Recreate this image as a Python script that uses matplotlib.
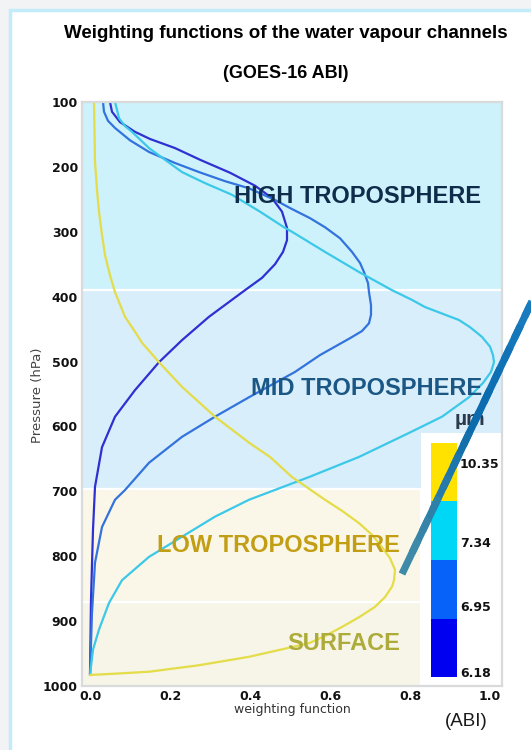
import numpy as np
import matplotlib
matplotlib.use("Agg")
import matplotlib.pyplot as plt
from matplotlib.patches import Rectangle
from matplotlib.colors import ListedColormap, BoundaryNorm, to_rgb
from matplotlib.collections import LineCollection
import matplotlib as mpl

# ---------------- data ----------------
p_618 = [100, 115, 131, 146, 157, 171, 189, 209, 229, 248, 269, 294, 313, 331, 350, 371,
         390, 431, 467, 501, 544, 585, 632, 693, 759, 867, 983]
w_618 = [0.05, 0.055, 0.075, 0.1125, 0.15, 0.2125, 0.275, 0.35, 0.4125, 0.455, 0.48,
         0.4925, 0.4925, 0.4825, 0.4625, 0.43, 0.3875, 0.2975, 0.23, 0.1725, 0.1125,
         0.0625, 0.03, 0.0125, 0.0075, 0.0025, 0.0]

p_695 = [100, 115, 129, 140, 159, 177, 194, 208, 222, 233, 251, 265, 279, 293, 310, 331,
         348, 362, 379, 393, 413, 428, 441, 453, 464, 490, 516, 555, 585, 616, 656, 698,
         713, 755, 810, 887, 983]
w_695 = [0.0325, 0.035, 0.045, 0.0625, 0.1, 0.1475, 0.2125, 0.2725, 0.3375, 0.3975,
         0.4625, 0.505, 0.55, 0.5875, 0.625, 0.655, 0.675, 0.685, 0.695, 0.6975, 0.7025,
         0.7025, 0.6975, 0.68, 0.65, 0.575, 0.5125, 0.3975, 0.3125, 0.23, 0.1475, 0.0875,
         0.0625, 0.03, 0.0125, 0.005, 0.0]

p_734 = [100, 112, 125, 137, 146, 171, 189, 208, 225, 243, 269, 294, 300, 331, 362, 390,
         405, 416, 436, 447, 462, 477, 490, 501, 516, 533, 555, 585, 610, 647, 678, 713,
         739, 770, 801, 837, 872, 913, 944, 983]
w_734 = [0.0625, 0.0675, 0.0725, 0.0875, 0.105, 0.1475, 0.1875, 0.23, 0.2875, 0.355,
         0.425, 0.4875, 0.505, 0.5875, 0.6725, 0.755, 0.805, 0.8375, 0.9225, 0.95, 0.98,
         1.0, 1.0075, 1.01, 1.0025, 0.9825, 0.9475, 0.88, 0.7975, 0.6725, 0.5475, 0.3975,
         0.3125, 0.23, 0.1475, 0.08, 0.0475, 0.0225, 0.0075, 0.0]

p_1035 = [100, 192, 236, 269, 305, 336, 367, 393, 431, 454, 471, 501, 539, 585, 625, 647,
          678, 696, 713, 730, 749, 767, 786, 803, 821, 837, 847, 863, 878, 894, 909, 923,
          934, 940, 955, 968, 978, 981, 983]
w_1035 = [0.01, 0.0125, 0.0175, 0.0225, 0.03, 0.0375, 0.05, 0.0625, 0.0875, 0.1125, 0.13,
          0.1725, 0.23, 0.3125, 0.3975, 0.45, 0.505, 0.5475, 0.5875, 0.63, 0.6725, 0.705,
          0.73, 0.75, 0.7625, 0.76, 0.755, 0.7375, 0.7125, 0.6725, 0.63, 0.5875, 0.5475,
          0.505, 0.3975, 0.2725, 0.1475, 0.0625, 0.0]

channels = ["6.18", "6.95", "7.34", "10.35"]
channel_colors = ["#2e30d2", "#3373de", "#3cc8e8", "#e4dc48"]

y_ticks = [100, 200, 300, 400, 500, 600, 700, 800, 900, 1000]
x_ticks = [0.0, 0.2, 0.4, 0.6, 0.8, 1.0]

layer_names = ["HIGH TROPOSPHERE", "MID TROPOSPHERE", "LOW TROPOSPHERE", "SURFACE"]
layer_bounds = [100, 390, 697, 870, 1000]

# ---------------- figure ----------------
W, H = 531, 750
fig = plt.figure(figsize=(W / 100, H / 100), dpi=100, facecolor="#f2f3f4")

# white panel with light-blue border (behind everything)
bg = fig.add_axes([0, 0, 1, 1], zorder=-10)
bg.set_xlim(0, W)
bg.set_ylim(H, 0)
bg.axis("off")
bg.add_patch(Rectangle((9.5, 9.5), W + 20, H + 20, facecolor="white",
                       edgecolor="#c3ebfa", linewidth=2.5))

ax = fig.add_axes([82 / W, 1 - 686 / H, 420 / W, 584 / H], zorder=1)
ax.set_facecolor("white")
ax.set_xlim(-0.02, 1.03)
ax.set_ylim(1000, 100)

# background layers
cb_frac = (0.8275 + 0.02) / 1.05
ax.axhspan(layer_bounds[0], layer_bounds[1], 0, 1, color="#cef2fb", lw=0, zorder=0)
ax.axhspan(layer_bounds[1], 610, 0, 1, color="#d8eefa", lw=0, zorder=0)
ax.axhspan(610, layer_bounds[2], 0, cb_frac, color="#d8eefa", lw=0, zorder=0)
ax.axhspan(layer_bounds[2], layer_bounds[3], 0, cb_frac - 0.003, color="#faf7e8", lw=0, zorder=0)
ax.axhspan(layer_bounds[3], layer_bounds[4], 0, cb_frac - 0.003, color="#f6f5e7", lw=0, zorder=0)
for b in layer_bounds[1:4]:
    ax.axhline(b, color="white", lw=1.6, zorder=0.5)

# weighting functions
for w, p, c in zip([w_618, w_695, w_734, w_1035], [p_618, p_695, p_734, p_1035], channel_colors):
    ax.plot(w, p, color=c, lw=1.6, solid_joinstyle="round", solid_capstyle="round", zorder=2)

# layer labels
ax.text(0.978, 245, layer_names[0], ha="right", va="center", fontsize=17,
        fontweight="bold", family="Liberation Sans", color="#0f2d4a", zorder=3)
ax.text(0.98, 542, layer_names[1], ha="right", va="center", fontsize=17,
        fontweight="bold", family="Liberation Sans", color="#1b5785", zorder=3)
ax.text(0.775, 784, layer_names[2], ha="right", va="center", fontsize=17,
        fontweight="bold", family="Liberation Sans", color="#c29e14", zorder=3)
ax.text(0.775, 935, layer_names[3], ha="right", va="center", fontsize=17,
        fontweight="bold", family="Liberation Sans", color="#adab3a", zorder=3)
ax.text(0.95, 590, "µm", ha="center", va="center", fontsize=15, fontweight="bold",
        family="Liberation Sans", color="#2b3a4c", zorder=3)

# axes styling
ax.set_xticks(x_ticks)
ax.set_xticklabels([f"{t:.1f}" for t in x_ticks])
ax.set_yticks(y_ticks)
ax.set_yticklabels([str(t) for t in y_ticks])
ax.tick_params(length=0, pad=3, labelsize=9)
for lab in ax.get_xticklabels() + ax.get_yticklabels():
    lab.set_fontweight("bold")
    lab.set_color("#111111")
for s in ax.spines.values():
    s.set_color("#d8dadc")
    s.set_linewidth(1.6)

fig.text(37 / W, 1 - 395 / H, "Pressure (hPa)", rotation=90, ha="center", va="center",
         fontsize=9.5, color="#444444")
fig.text(292 / W, 1 - 710 / H, "weighting function", ha="center", va="center",
         fontsize=9, color="#333333")

# titles
fig.text(285.5 / W, 1 - 33 / H, "Weighting functions of the water vapour channels",
         ha="center", va="center", fontsize=13.5, fontweight="bold", family="Liberation Sans")
fig.text(285.5 / W, 1 - 73 / H, "(GOES-16 ABI)", ha="center", va="center",
         fontsize=13, fontweight="bold", family="Liberation Sans")
fig.text(466 / W, 1 - 722 / H, "(ABI)", ha="center", va="center", fontsize=13.5,
         family="Liberation Sans", color="#1a1a1a")

# colorbar
cax = fig.add_axes([431 / W, 1 - 677 / H, 26 / W, 234 / H], zorder=2)
cmap = ListedColormap(["#0000f0", "#0662f8", "#00d6f6", "#ffe200"])
norm = BoundaryNorm([0, 1, 2, 3, 4], cmap.N)
cb = mpl.colorbar.ColorbarBase(cax, cmap=cmap, norm=norm, orientation="vertical")
cb.outline.set_visible(False)
cb.set_ticks([0.085, 1.21, 2.31, 3.66])
cb.set_ticklabels(channels)
cax.minorticks_off()
cax.tick_params(which="both", length=0, pad=2, labelsize=9)
for lab in cax.get_yticklabels():
    lab.set_fontweight("bold")
    lab.set_color("#111111")

# diagonal pointer line (figure pixel coords), drawn on a top overlay
ov = fig.add_axes([0, 0, 1, 1], zorder=5)
ov.set_xlim(0, W)
ov.set_ylim(H, 0)
ov.axis("off")
x0, y0, x1, y1 = 402, 574, 545, 274
n = 14
t = np.linspace(0, 1, n + 1)
xs = x0 + (x1 - x0) * t
ys = y0 + (y1 - y0) * t
c_a, c_b, c_c = np.array(to_rgb("#3f8aa8")), np.array(to_rgb("#0869ac")), np.array(to_rgb("#2286c8"))
segs, cols = [], []
for i in range(n):
    tt = t[i]
    end = min(i + 1.6, n)
    xe = x0 + (x1 - x0) * end / n
    ye = y0 + (y1 - y0) * end / n
    segs.append([(xs[i], ys[i]), (xe, ye)])
    if tt < 0.45:
        cols.append(c_a + (c_b - c_a) * tt / 0.45)
    else:
        cols.append(c_b + (c_c - c_b) * (tt - 0.45) / 0.55)
lc = LineCollection(segs[::-1], colors=cols[::-1], linewidths=5.2, capstyle="butt")
ov.add_collection(lc)

fig.savefig("out.png", dpi=100, facecolor=fig.get_facecolor())
